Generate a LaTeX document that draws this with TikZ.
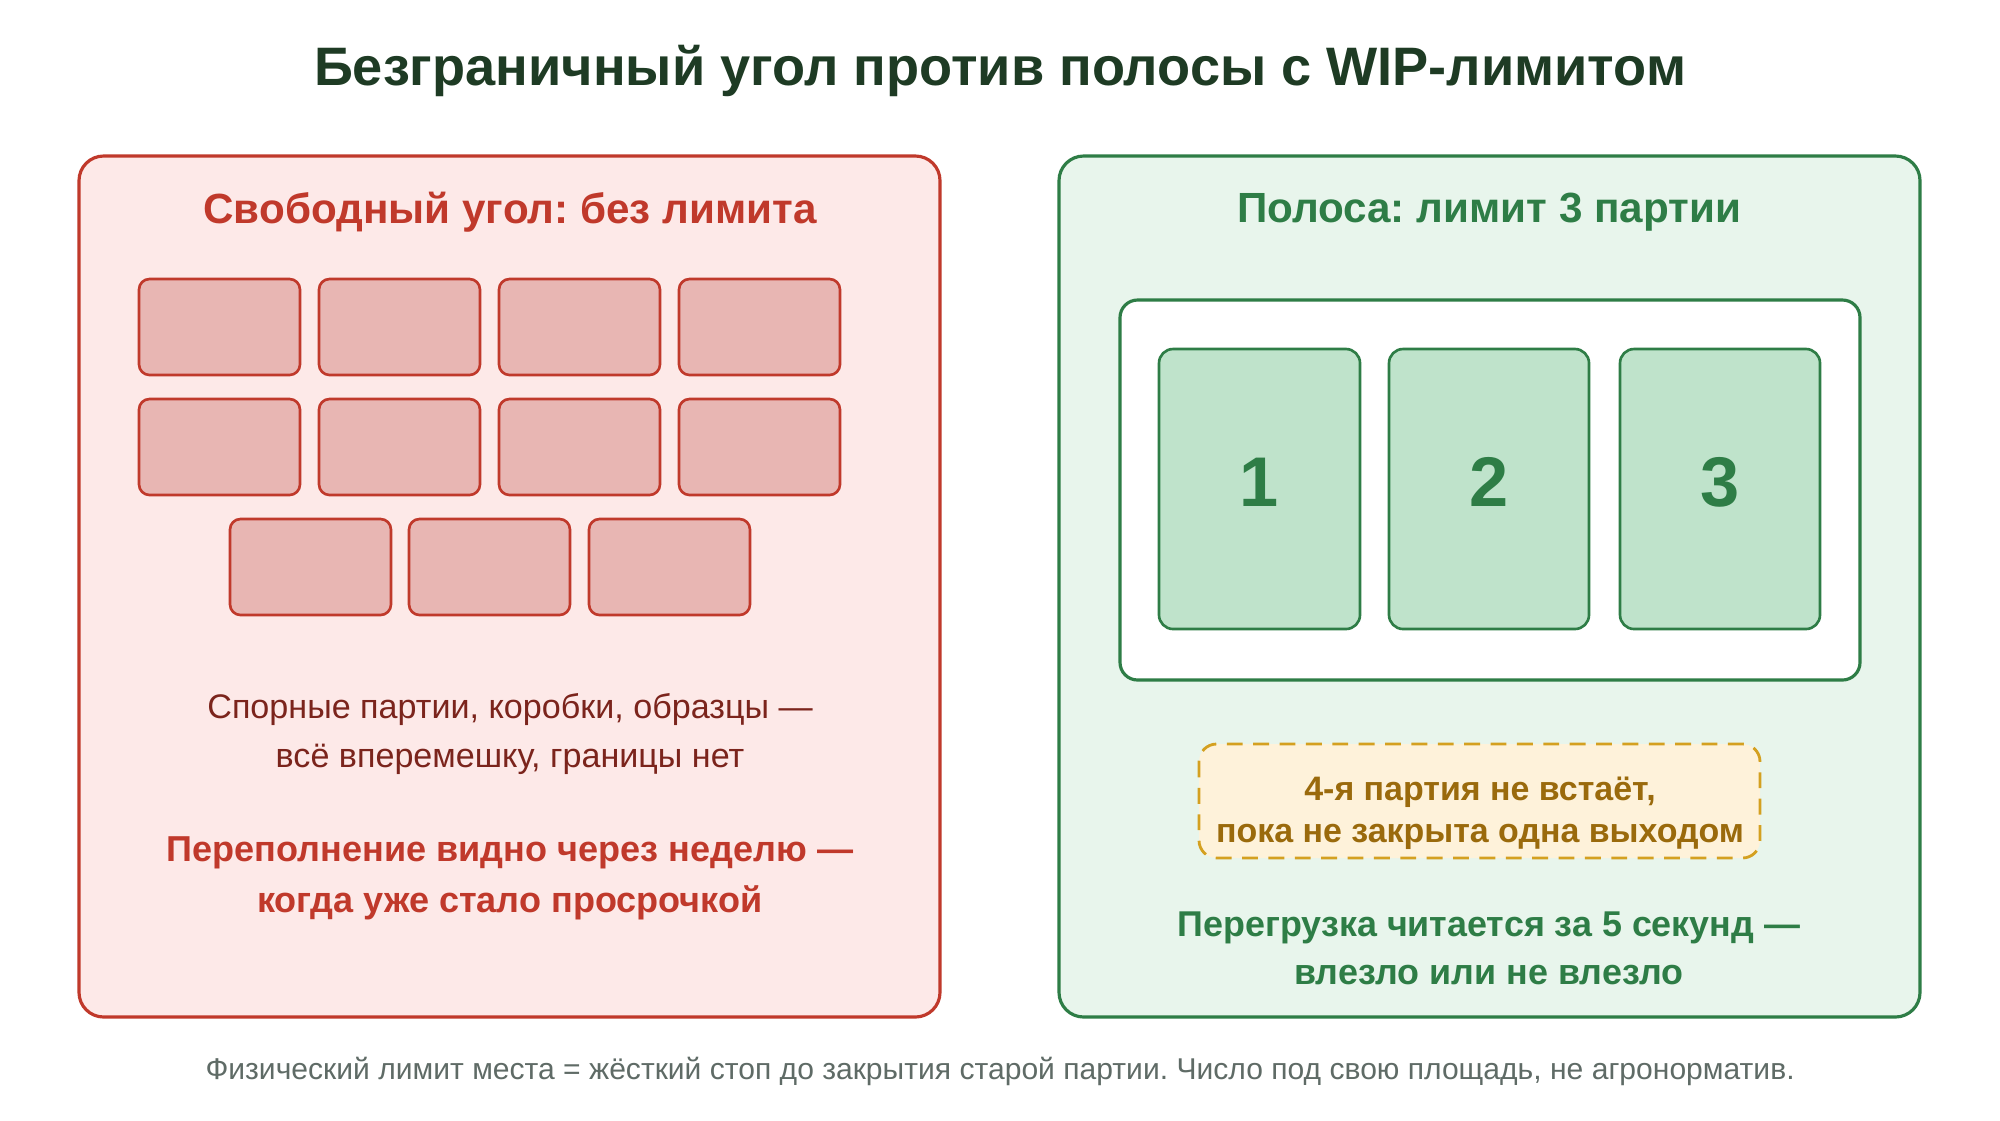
\documentclass[tikz,border=0pt]{standalone}
\usepackage{fontspec}
\setmainfont{Liberation Sans}
\frenchspacing
\definecolor{titlegreen}{HTML}{1E3B24}
\definecolor{redline}{HTML}{C0392B}
\definecolor{redpanel}{HTML}{FDE9E8}
\definecolor{redbrick}{HTML}{E8B6B3}
\definecolor{redtext}{HTML}{7B241C}
\definecolor{greenline}{HTML}{2E7D46}
\definecolor{greenpanel}{HTML}{E8F5EC}
\definecolor{greenslot}{HTML}{BFE3CB}
\definecolor{amberline}{HTML}{D4A020}
\definecolor{amberfill}{HTML}{FEF2DA}
\definecolor{ambertext}{HTML}{9A6A0C}
\definecolor{footgray}{HTML}{5F6B66}
\begin{document}
\begin{tikzpicture}[x=0.01cm, y=-0.01cm,
    every node/.style={inner sep=0pt, align=center},
    brick/.style={draw=redline, fill=redbrick, line width=0.75pt, rounded corners=3pt},
    slot/.style={draw=greenline, fill=greenslot, line width=0.75pt, rounded corners=4pt}]
  \useasboundingbox (0,0) rectangle (2000,1120);
  \fill[white] (0,0) rectangle (2000,1120);
  % title
  \node[font=\fontsize{15.4}{18}\selectfont\bfseries, text=titlegreen] (title) at (1000,71)
    {Безграничный угол против полосы с WIP-лимитом};
  % free corner panel
  \draw[line width=0.9pt, draw=redline, fill=redpanel, rounded corners=7pt] (79,156) rectangle (940,1017);
  \node[font=\fontsize{12}{14}\selectfont\bfseries, text=redline] (freetitle) at (510,212)
    {Свободный угол: без лимита};
  \draw[brick] (139,279) rectangle (300,375);
  \draw[brick] (319,279) rectangle (480,375);
  \draw[brick] (499,279) rectangle (660,375);
  \draw[brick] (679,279) rectangle (840,375);
  \draw[brick] (139,399) rectangle (300,495);
  \draw[brick] (319,399) rectangle (480,495);
  \draw[brick] (499,399) rectangle (660,495);
  \draw[brick] (679,399) rectangle (840,495);
  \draw[brick] (230,519) rectangle (391,615);
  \draw[brick] (409,519) rectangle (570,615);
  \draw[brick] (589,519) rectangle (750,615);
  \node[font=\fontsize{9.7}{13.7}\selectfont, text=redtext] (freenote) at (510,734)
    {Спорные партии, коробки, образцы —\\всё вперемешку, границы нет};
  \node[font=\fontsize{10.25}{14.5}\selectfont\bfseries, text=redline] (freewarn) at (510,878)
    {Переполнение видно через неделю —\\когда уже стало просрочкой};
  % lane panel
  \draw[line width=0.9pt, draw=greenline, fill=greenpanel, rounded corners=7pt] (1059,156) rectangle (1920,1017);
  \node[font=\fontsize{12}{14}\selectfont\bfseries, text=greenline] (lanetitle) at (1489,212)
    {Полоса: лимит 3 партии};
  \draw[line width=0.9pt, draw=greenline, fill=white, rounded corners=5pt] (1120,300) rectangle (1860,680);
  \draw[slot] (1159,349) rectangle (1360,629);
  \draw[slot] (1389,349) rectangle (1589,629);
  \draw[slot] (1620,349) rectangle (1820,629);
  \node[font=\fontsize{20}{24}\selectfont\bfseries, text=greenline] (one) at (1259.5,482) {1};
  \node[font=\fontsize{20}{24}\selectfont\bfseries, text=greenline] (two) at (1489,482) {2};
  \node[font=\fontsize{20}{24}\selectfont\bfseries, text=greenline] (three) at (1720,482) {3};
  % stop note
  \draw[line width=0.8pt, draw=amberline, fill=amberfill, rounded corners=5pt, dash pattern=on 4.5pt off 3pt] (1199,744) rectangle (1760,858);
  \node[font=\fontsize{9.65}{12}\selectfont\bfseries, text=ambertext] (stopnote) at (1480,813)
    {4-я партия не встаёт,\\пока не закрыта одна выходом};
  \node[font=\fontsize{10.2}{13.7}\selectfont\bfseries, text=greenline] (lanewarn) at (1489,948)
    {Перегрузка читается за 5 секунд —\\влезло или не влезло};
  % footer
  \node[font=\fontsize{8.55}{10}\selectfont, text=footgray] (footer) at (1000,1071)
    {Физический лимит места = жёсткий стоп до закрытия старой партии. Число под свою площадь, не агронорматив.};
\end{tikzpicture}
\end{document}
